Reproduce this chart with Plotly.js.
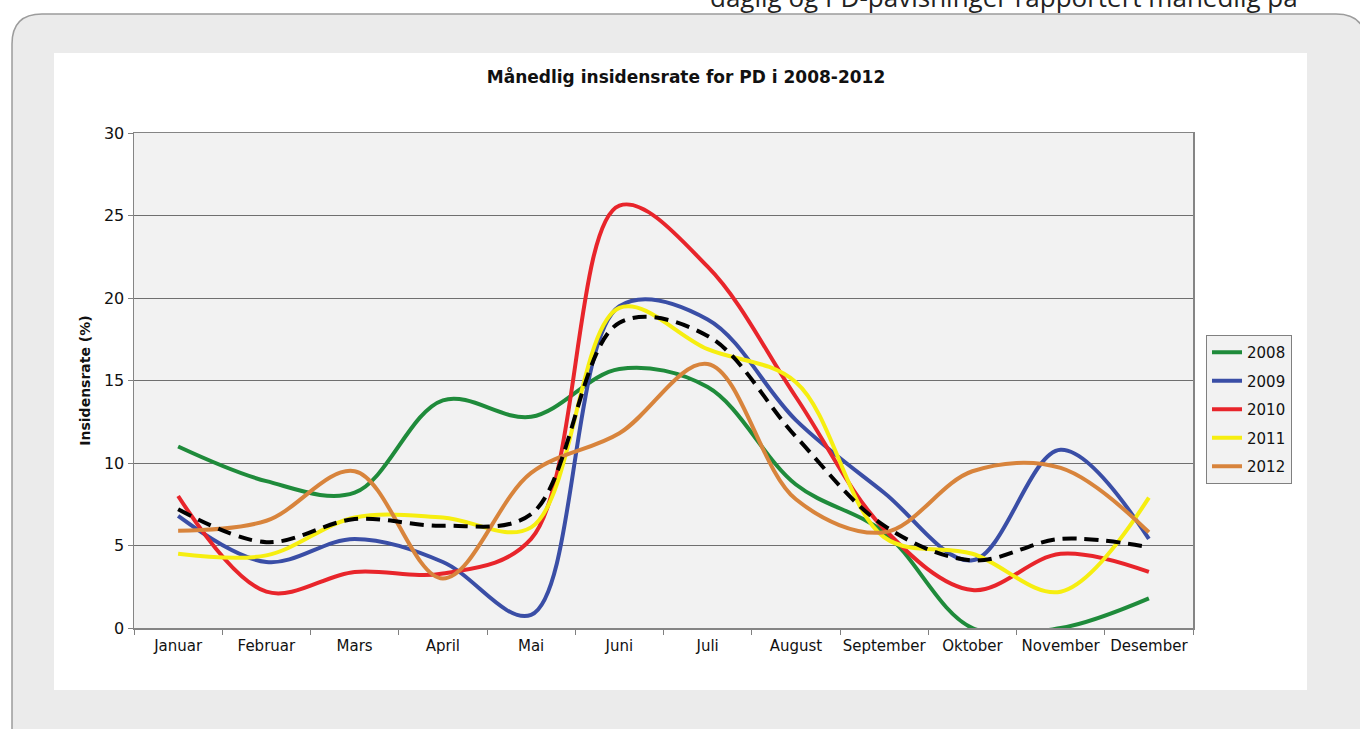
<!DOCTYPE html>
<html>
<head>
<meta charset="utf-8">
<script src="https://cdn.plot.ly/plotly-3.0.1.min.js"></script>
<style>html,body{margin:0;padding:0;background:#fff;}#chart{width:1360px;height:729px;}</style>
</head>
<body>
<div id="chart"></div>
<script>
// ---- data ----
const months = ["Januar","Februar","Mars","April","Mai","Juni","Juli","August","September","Oktober","November","Desember"];
const y2008 = [11.0, 8.9, 8.2, 13.8, 12.8, 15.7, 14.6, 8.7, 5.8, 0.0, 0.0, 1.8];
const y2009 = [6.8, 4.0, 5.4, 4.0, 0.8, 19.5, 18.7, 12.6, 8.2, 4.1, 10.8, 5.4];
const y2010 = [8.0, 2.2, 3.4, 3.3, 5.4, 25.6, 21.9, 14.0, 6.0, 2.3, 4.5, 3.4];
const y2011 = [4.5, 4.4, 6.7, 6.7, 6.1, 19.4, 16.9, 14.9, 5.5, 4.5, 2.2, 7.9];
const y2012 = [5.9, 6.5, 9.5, 3.0, 9.4, 11.8, 16.0, 7.8, 5.8, 9.5, 9.7, 5.8];
const yMean = [7.2, 5.2, 6.6, 6.2, 6.9, 18.5, 17.7, 11.6, 6.2, 4.1, 5.4, 4.9];
const seriesNames = ["2008","2009","2010","2011","2012"];

const titleText = "Månedlig insidensrate for PD i 2008-2012";
const yTitleText = "Insidensrate (%)";
const topText = "daglig og PD-påvisninger rapportert månedlig på";

// ---- page geometry (pixels) ----
const W = 1360, H = 729;
const PL = 134, PR = 1193, PT = 133, PB = 628;
const px = v => (v - PL) / (PR - PL);
const py = v => (PB - v) / (PB - PT);

const colors = ["#1f8b3b", "#3a4ea6", "#e8252b", "#f6ee10", "#d8843c"];
const allSeries = [y2008, y2009, y2010, y2011, y2012];

const traces = allSeries.map((ys, i) => ({
  type: "scatter", mode: "lines", x: months, y: ys, name: seriesNames[i],
  legendgroup: "g" + i,
  line: {color: colors[i], width: 4, shape: "spline", smoothing: 1},
  hoverinfo: "skip"
}));
traces.push({
  type: "scatter", mode: "lines", x: months, y: yMean, name: "Snitt",
  showlegend: false,
  line: {color: "#000000", width: 4, dash: "14px,8px", shape: "spline", smoothing: 1},
  hoverinfo: "skip"
});

// rounded rect path in paper coords
function roundRect(x0, y0, x1, y1, r) {
  const P = (a, b) => px(a) + "," + py(b);
  return "M" + P(x0 + r, y0) + " L" + P(x1 - r, y0) + " Q" + P(x1, y0) + " " + P(x1, y0 + r) +
    " L" + P(x1, y1 - r) + " Q" + P(x1, y1) + " " + P(x1 - r, y1) +
    " L" + P(x0 + r, y1) + " Q" + P(x0, y1) + " " + P(x0, y1 - r) +
    " L" + P(x0, y0 + r) + " Q" + P(x0, y0) + " " + P(x0 + r, y0) + " Z";
}

const shapes = [
  {type: "path", xref: "paper", yref: "paper", layer: "below",
   path: roundRect(12, 14, 1366, 760, 30),
   fillcolor: "#ebebeb", line: {color: "#9c9c9c", width: 1.5}},
  {type: "rect", xref: "paper", yref: "paper", layer: "below",
   x0: px(54), x1: px(1307), y0: py(690), y1: py(53),
   fillcolor: "#ffffff", line: {width: 0}},
  {type: "rect", xref: "paper", yref: "paper", layer: "below",
   x0: 0, x1: 1, y0: 0, y1: 1,
   fillcolor: "#f2f2f2", line: {width: 0}}
];

const layout = {
  width: W, height: H,
  margin: {l: PL, r: W - PR, t: PT, b: H - PB, pad: 0},
  paper_bgcolor: "#ffffff",
  plot_bgcolor: "#f2f2f2",
  showlegend: true,
  title: {
    text: "<b>" + titleText + "</b>",
    font: {family: "DejaVu Sans", size: 17, color: "#111"},
    x: px(686), xref: "paper", xanchor: "center",
    y: 1 - 77 / H, yref: "container", yanchor: "middle"
  },
  xaxis: {
    type: "category",
    range: [-0.5, 11.5],
    tickson: "boundaries",
    tickangle: 0,
    ticklabelstandoff: 3,
    ticks: "outside", ticklen: 5, tickcolor: "#808080", tickwidth: 1,
    showgrid: false, zeroline: false,
    showline: true, linecolor: "#858585", linewidth: 1.5, mirror: true,
    tickfont: {family: "DejaVu Sans", size: 15, color: "#111"},
    fixedrange: true
  },
  yaxis: {
    range: [0, 30], dtick: 5, tick0: 0,
    ticks: "outside", ticklen: 5, tickcolor: "#808080", tickwidth: 1,
    showgrid: true, gridcolor: "#6f6f6f", gridwidth: 1,
    zeroline: false,
    showline: true, linecolor: "#858585", linewidth: 1.5, mirror: true,
    tickfont: {family: "DejaVu Sans", size: 16, color: "#111"},
    title: {text: "<b>" + yTitleText + "</b>", font: {family: "DejaVu Sans", size: 14, color: "#111"}, standoff: 10},
    fixedrange: true
  },
  legend: {
    x: px(1206), y: py(335), xref: "paper", yref: "paper",
    xanchor: "left", yanchor: "top",
    bgcolor: "#f2f2f2", bordercolor: "#808080", borderwidth: 1,
    font: {family: "DejaVu Sans", size: 15, color: "#111"},
    tracegroupgap: 6, itemwidth: 30
  },
  shapes: shapes,
  annotations: [
    {text: topText, xref: "paper", yref: "paper",
     x: px(1300), xanchor: "right", y: py(-3), yanchor: "middle",
     showarrow: false, font: {family: "Open Sans", size: 26, color: "#222"}}
  ]
};

Plotly.newPlot("chart", traces, layout, {displayModeBar: false, staticPlot: true});
</script>
</body>
</html>
